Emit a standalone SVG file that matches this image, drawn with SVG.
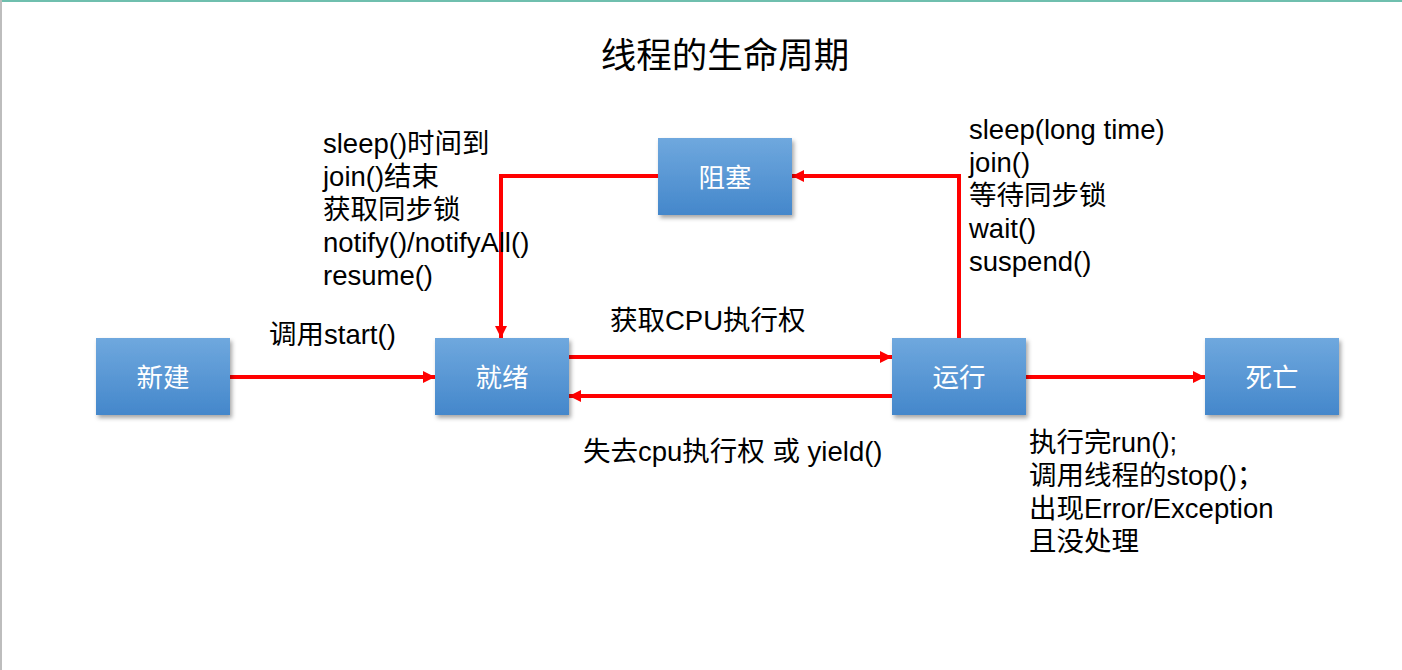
<svg xmlns="http://www.w3.org/2000/svg" width="1402" height="670" viewBox="0 0 1402 670">
  <defs>
    <linearGradient id="boxGrad" x1="0" y1="0" x2="0" y2="1">
      <stop offset="0" stop-color="#6fa8de"/>
      <stop offset="1" stop-color="#4487cb"/>
    </linearGradient>
    <filter id="shadow" x="-10%" y="-10%" width="125%" height="130%">
      <feDropShadow dx="2" dy="3" stdDeviation="2" flood-color="#000" flood-opacity="0.35"/>
    </filter>
    <marker id="arrow" markerUnits="userSpaceOnUse" markerWidth="13" markerHeight="13" refX="12" refY="6" orient="auto">
      <path d="M0,0 L12,6 L0,12 Z" fill="#ff0000"/>
    </marker>
    <style>
      .box { fill: url(#boxGrad); filter: url(#shadow); }
      .boxlabel { font-family: "Noto Sans CJK SC", "Liberation Sans", sans-serif; font-size: 26.5px; fill: #ffffff; text-anchor: middle; }
      .label { font-family: "Liberation Sans", "Noto Sans CJK SC", sans-serif; font-size: 27.5px; fill: #000000; }
      .title { font-family: "Liberation Sans", "Noto Sans CJK SC", sans-serif; font-size: 35.5px; fill: #000000; text-anchor: middle; }
      .conn { fill: none; stroke: #ff0000; stroke-width: 4; }
    </style>
  </defs>

  <rect x="0" y="0" width="1402" height="670" fill="#ffffff"/>
  <line x1="0" y1="1" x2="1402" y2="1" stroke="#6fbfae" stroke-width="2"/>
  <line x1="1" y1="0" x2="1" y2="670" stroke="#bdbdbd" stroke-width="2"/>

  <text class="title" x="725" y="68">线程的生命周期</text>

  <g id="connectors">
    <path class="conn" d="M230,377 H435" marker-end="url(#arrow)"/>
    <path class="conn" d="M569,357 H892" marker-end="url(#arrow)"/>
    <path class="conn" d="M892,396 H569" marker-end="url(#arrow)"/>
    <path class="conn" d="M1026,377 H1205" marker-end="url(#arrow)"/>
    <path class="conn" d="M959,338 V176 H792" marker-end="url(#arrow)"/>
    <path class="conn" d="M658,176 H501 V338" marker-end="url(#arrow)"/>
  </g>

  <g id="node-new">
    <rect class="box" x="96" y="338" width="134" height="77"/>
    <text class="boxlabel" x="163" y="387">新建</text>
  </g>
  <g id="node-ready">
    <rect class="box" x="435" y="338" width="134" height="77"/>
    <text class="boxlabel" x="502" y="387">就绪</text>
  </g>
  <g id="node-running">
    <rect class="box" x="892" y="338" width="134" height="77"/>
    <text class="boxlabel" x="959" y="387">运行</text>
  </g>
  <g id="node-dead">
    <rect class="box" x="1205" y="338" width="134" height="77"/>
    <text class="boxlabel" x="1272" y="387">死亡</text>
  </g>
  <g id="node-blocked">
    <rect class="box" x="658" y="138" width="134" height="77"/>
    <text class="boxlabel" x="725" y="187">阻塞</text>
  </g>

  <g id="labels">
    <text class="label" x="269" y="344">调用start()</text>
    <text class="label" x="610" y="330">获取CPU执行权</text>
    <text class="label" x="583" y="461">失去cpu执行权 或 yield()</text>

    <text class="label" x="323" y="153">sleep()时间到</text>
    <text class="label" x="323" y="186">join()结束</text>
    <text class="label" x="323" y="219">获取同步锁</text>
    <text class="label" x="323" y="252">notify()/notifyAll()</text>
    <text class="label" x="323" y="285">resume()</text>

    <text class="label" x="969" y="139">sleep(long time)</text>
    <text class="label" x="969" y="172">join()</text>
    <text class="label" x="969" y="205">等待同步锁</text>
    <text class="label" x="969" y="238">wait()</text>
    <text class="label" x="969" y="271">suspend()</text>

    <text class="label" x="1029" y="452">执行完run();</text>
    <text class="label" x="1029" y="485">调用线程的stop()；</text>
    <text class="label" x="1029" y="518">出现Error/Exception</text>
    <text class="label" x="1029" y="551">且没处理</text>
  </g>
</svg>
